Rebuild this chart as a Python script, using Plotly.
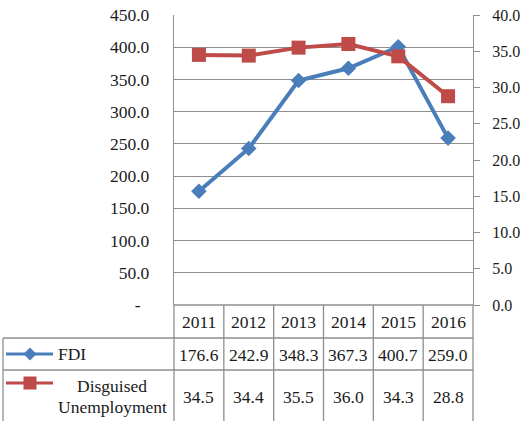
import plotly.graph_objects as go

years = ["2011", "2012", "2013", "2014", "2015", "2016"]
fdi = [176.6, 242.9, 348.3, 367.3, 400.7, 259.0]
disguised = [34.5, 34.4, 35.5, 36.0, 34.3, 28.8]
left_ticks = [0, 50, 100, 150, 200, 250, 300, 350, 400, 450]
right_ticks = [0, 5, 10, 15, 20, 25, 30, 35, 40]

W, H = 522, 421
BLUE = "#4A7EBB"
RED = "#BE4B48"
GRID = "#8E8E8E"
TXT = "#1a1a1a"
FONT = "Liberation Serif, Times New Roman, serif"
FS = 17.5

# plot domain (paper)
xd = [174 / W, 473 / W]
yd = [1 - 305 / H, 1 - 15 / H]

def py(px):
    return 1 - px / H

def px_x(px):
    return px / W

def cat_paper(v):
    # category position (-0.5..5.5) to paper x
    return xd[0] + (v + 0.5) / len(years) * (xd[1] - xd[0])

fig = go.Figure()
fig.add_trace(go.Scatter(
    x=list(range(len(years))), y=fdi, mode="lines+markers", name="FDI",
    line=dict(color=BLUE, width=4),
    marker=dict(symbol="diamond", size=12, color=BLUE),
    yaxis="y", cliponaxis=False))
fig.add_trace(go.Scatter(
    x=list(range(len(years))), y=disguised, mode="lines+markers",
    name="Disguised Unemployment",
    line=dict(color=RED, width=4),
    marker=dict(symbol="square", size=14, color=RED),
    yaxis="y2", cliponaxis=False))

shapes = []
ann = []
line_style = dict(color=GRID, width=1.3)

# table vertical lines
for i in range(len(years) + 1):
    xv = cat_paper(i - 0.5)
    shapes.append(dict(type="line", xref="paper", yref="paper",
                       x0=xv, x1=xv, y0=py(305), y1=py(425), line=line_style))
# left border of legend column
shapes.append(dict(type="line", xref="paper", yref="paper",
                   x0=px_x(3), x1=px_x(3), y0=py(338), y1=py(425), line=line_style))
# horizontal lines
shapes.append(dict(type="line", xref="paper", yref="paper",
                   x0=xd[0], x1=xd[1], y0=py(305), y1=py(305), line=line_style))
for yy in (338, 370):
    shapes.append(dict(type="line", xref="paper", yref="paper",
                       x0=px_x(3), x1=xd[1], y0=py(yy), y1=py(yy), line=line_style))

# legend keys
def key(yc, color, symbol):
    shapes.append(dict(type="line", xref="paper", yref="paper",
                       x0=px_x(6), x1=px_x(53), y0=py(yc), y1=py(yc),
                       line=dict(color=color, width=3)))
    cx, r = 30, 6.5
    if symbol == "diamond":
        path = f"M {px_x(cx-r)} {py(yc)} L {px_x(cx)} {py(yc-r)} L {px_x(cx+r)} {py(yc)} L {px_x(cx)} {py(yc+r)} Z"
    else:
        path = (f"M {px_x(cx-r)} {py(yc-r)} L {px_x(cx+r)} {py(yc-r)} "
                f"L {px_x(cx+r)} {py(yc+r)} L {px_x(cx-r)} {py(yc+r)} Z")
    shapes.append(dict(type="path", xref="paper", yref="paper", path=path,
                       fillcolor=color, line=dict(color=color, width=0)))

key(354, BLUE, "diamond")
key(383, RED, "square")

font = dict(family=FONT, size=FS, color=TXT)
ann.append(dict(x=px_x(56), y=py(354), xref="paper", yref="paper", text="FDI",
                showarrow=False, xanchor="left", yanchor="middle", font=font))
ann.append(dict(x=px_x(112), y=py(386), xref="paper", yref="paper", text="Disguised",
                showarrow=False, xanchor="center", yanchor="middle", font=font))
ann.append(dict(x=px_x(112), y=py(407), xref="paper", yref="paper", text="Unemployment",
                showarrow=False, xanchor="center", yanchor="middle", font=font))

for i, yr in enumerate(years):
    ann.append(dict(x=i, y=py(322), xref="x", yref="paper", text=yr, showarrow=False,
                    xanchor="center", yanchor="middle", font=font))
    ann.append(dict(x=i, y=py(355), xref="x", yref="paper", text=f"{fdi[i]:.1f}",
                    showarrow=False, xanchor="center", yanchor="middle", font=font))
    ann.append(dict(x=i, y=py(397), xref="x", yref="paper", text=f"{disguised[i]:.1f}",
                    showarrow=False, xanchor="center", yanchor="middle", font=font))

left_text = ["-\u00a0\u00a0" if v == 0 else f"{v:.1f}" for v in left_ticks]
right_text = [f"{v:.1f}" for v in right_ticks]
right_font = dict(family=FONT, size=16, color=TXT)

fig.update_layout(
    template="none",
    width=W, height=H, autosize=False,
    margin=dict(l=0, r=0, t=0, b=0, pad=0, autoexpand=False),
    paper_bgcolor="white", plot_bgcolor="white",
    showlegend=False,
    font=font,
    xaxis=dict(domain=xd, range=[-0.5, 5.5], showticklabels=False, showgrid=False,
               zeroline=False, showline=False, ticks="", fixedrange=True,
               automargin=False),
    yaxis=dict(domain=yd, range=[0, 450], tickvals=left_ticks, ticktext=left_text,
               showgrid=True, gridcolor=GRID, gridwidth=1.3, zeroline=False,
               showline=True, linecolor=GRID, linewidth=1.3, ticks="",
               ticklabelstandoff=20, tickfont=font, automargin=False,
               ticklabeloverflow="allow"),
    yaxis2=dict(overlaying="y", side="right", range=[0, 40], tickvals=right_ticks,
                ticktext=right_text, showgrid=False, zeroline=False,
                showline=True, linecolor=GRID, linewidth=1.3, ticks="outside",
                ticklen=6, tickcolor=GRID, tickwidth=1.3, ticklabelstandoff=9,
                tickfont=right_font, automargin=False, ticklabeloverflow="allow"),
    shapes=shapes,
    annotations=ann,
)

fig.write_html("out.html", config={"displayModeBar": False},
               post_script="document.body.style.margin='0';document.body.style.overflow='hidden';")
